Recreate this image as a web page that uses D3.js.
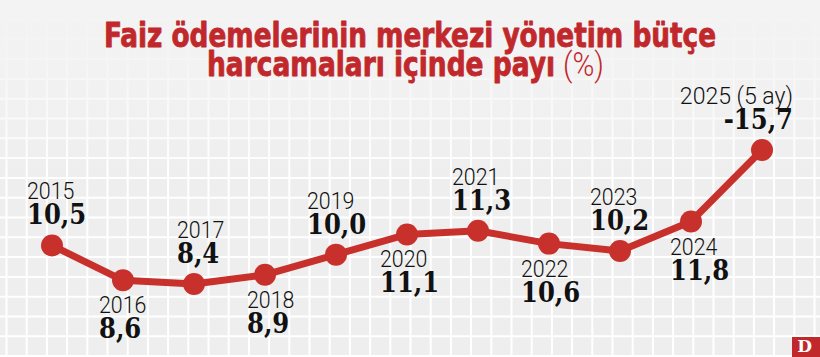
<!DOCTYPE html>
<html><head><meta charset="utf-8">
<script src="https://cdn.jsdelivr.net/npm/d3@7"></script>
<style>html,body{margin:0;padding:0;background:#efefef;overflow:hidden}</style>
</head><body>
<svg id="chart" width="820" height="357"></svg>
<script>
// ---- data ----
const years = ["2015","2016","2017","2018","2019","2020","2021","2022","2023","2024","2025"];
const yearLabels = ["2015","2016","2017","2018","2019","2020","2021","2022","2023","2024","2025 (5 ay)"];
const values = [10.5, 8.6, 8.4, 8.9, 10.0, 11.1, 11.3, 10.6, 10.2, 11.8, 15.7];
const valueLabels = ["10,5","8,6","8,4","8,9","10,0","11,1","11,3","10,6","10,2","11,8","-15,7"];
const labelSide = ["above","below","above","below","above","below","above","below","above","below","above"];
const titleLines = ["Faiz ödemelerinin merkezi yönetim bütçe", "harcamaları içinde payı"];
const titleUnit = "(%)";
const logoText = "D";

// ---- layout ----
const W = 820, H = 357;
const RED = "#c8302c", TITLE_RED = "#c1282c";
const labelDx = [-25,-24,-17,-18,-29,-27,-26,-28,-30,-21,31];
const yearSqueeze = [0.89,0.89,0.89,0.89,0.89,0.89,0.89,0.89,0.89,0.89,0.96];
const svg = d3.select("#chart");

// background + grid
svg.append("rect").attr("width", W).attr("height", H).attr("fill", "#eeeeee");
const gridX = d3.range(6.5, W, 20.2);
const gridY = d3.range(-0.3, H, 19.8);
const grid = svg.append("g").attr("stroke", "#ffffff").attr("stroke-width", 2);
grid.selectAll("line.v").data(gridX).join("line").attr("class","v")
  .attr("x1", d => d).attr("x2", d => d).attr("y1", 0).attr("y2", H);
grid.selectAll("line.h").data(gridY).join("line").attr("class","h")
  .attr("y1", d => d).attr("y2", d => d).attr("x1", 0).attr("x2", W);

// top fade
const defs = svg.append("defs");
const lg = defs.append("linearGradient").attr("id","fade").attr("x1",0).attr("x2",0).attr("y1",0).attr("y2",1);
lg.append("stop").attr("offset","0").attr("stop-color","#f3f3f3").attr("stop-opacity",1);
lg.append("stop").attr("offset","0.35").attr("stop-color","#f3f3f3").attr("stop-opacity",0.85);
lg.append("stop").attr("offset","1").attr("stop-color","#f3f3f3").attr("stop-opacity",0);
svg.append("rect").attr("x",0).attr("y",0).attr("width",W).attr("height",175).attr("fill","url(#fade)");

// helpers
function fitWidth(sel, target) {
  sel.attr("textLength", target).attr("lengthAdjust", "spacingAndGlyphs");
}
function squeezeBy(sel, ratioFn) {
  sel.each(function(d, i) {
    const w = this.getComputedTextLength();
    d3.select(this).attr("textLength", w * ratioFn(d, i)).attr("lengthAdjust", "spacingAndGlyphs");
  });
}

// title (one text element, lines as tspans)
const tFont = "'Liberation Sans Narrow','DejaVu Sans Condensed','Arial Narrow',sans-serif";
const title = svg.append("text")
  .attr("font-family", tFont).attr("font-weight", 700).attr("font-size", 33)
  .attr("fill", TITLE_RED);
title.append("tspan").attr("x", 410).attr("y", 46.5).attr("text-anchor","middle")
  .attr("stroke", TITLE_RED).attr("stroke-width", 0.8).attr("stroke-linejoin","round")
  .text(titleLines[0]).call(fitWidth, 612);
title.append("tspan").attr("x", 207).attr("y", 75.5)
  .attr("stroke", TITLE_RED).attr("stroke-width", 0.8).attr("stroke-linejoin","round")
  .text(titleLines[1]).call(fitWidth, 348);
title.append("tspan").attr("x", 563).attr("y", 76)
  .attr("font-family", "Roboto, sans-serif").attr("font-weight", 300)
  .text(titleUnit).call(fitWidth, 41);

// scales
const x = d3.scalePoint().domain(years).range([52, 762]);
const y = d3.scaleLinear().domain([8.4, 15.7]).range([284, 150]);
const data = years.map((yr, i) => ({yr, v: values[i], yl: yearLabels[i], vl: valueLabels[i], side: labelSide[i], dx: labelDx[i], sq: yearSqueeze[i], last: i === years.length - 1}));

// line + markers
svg.append("path").datum(data)
  .attr("fill","none").attr("stroke", RED).attr("stroke-width", 7).attr("stroke-linejoin","round")
  .attr("d", d3.line().x(d => x(d.yr)).y(d => y(d.v)));
svg.append("g").selectAll("circle").data(data).join("circle")
  .attr("cx", d => x(d.yr)).attr("cy", d => y(d.v)).attr("r", 11).attr("fill", RED);

// labels: one text per point, year + value as tspans
const lab = svg.append("g").selectAll("text").data(data).join("text")
  .attr("transform", d => `translate(${x(d.yr) + d.dx},${y(d.v)})`)
  .attr("text-anchor", d => d.last ? "end" : "start")
  .attr("fill", "#111");
lab.append("tspan")
  .attr("x", 0).attr("y", d => d.side === "above" ? -46 : 33)
  .attr("font-family", "Roboto, sans-serif").attr("font-weight", 300).attr("font-size", 24)
  .text(d => d.yl).call(squeezeBy, d => d.sq);
lab.append("tspan")
  .attr("x", 0).attr("y", d => d.side === "above" ? -21 : 58)
  .attr("font-family", "'DejaVu Serif', serif").attr("font-weight", 700).attr("font-size", 27)
  .text(d => d.vl).call(squeezeBy, () => 0.9);

// logo
svg.append("rect").attr("x", 792).attr("y", 337).attr("width", 28).attr("height", 28).attr("fill", "#c1282c");
svg.append("text").attr("x", 804.5).attr("y", 352).attr("text-anchor","middle")
  .attr("font-family","'DejaVu Serif', serif").attr("font-weight",700).attr("font-size",17)
  .attr("fill","#fff").text(logoText);
</script>
</body></html>
